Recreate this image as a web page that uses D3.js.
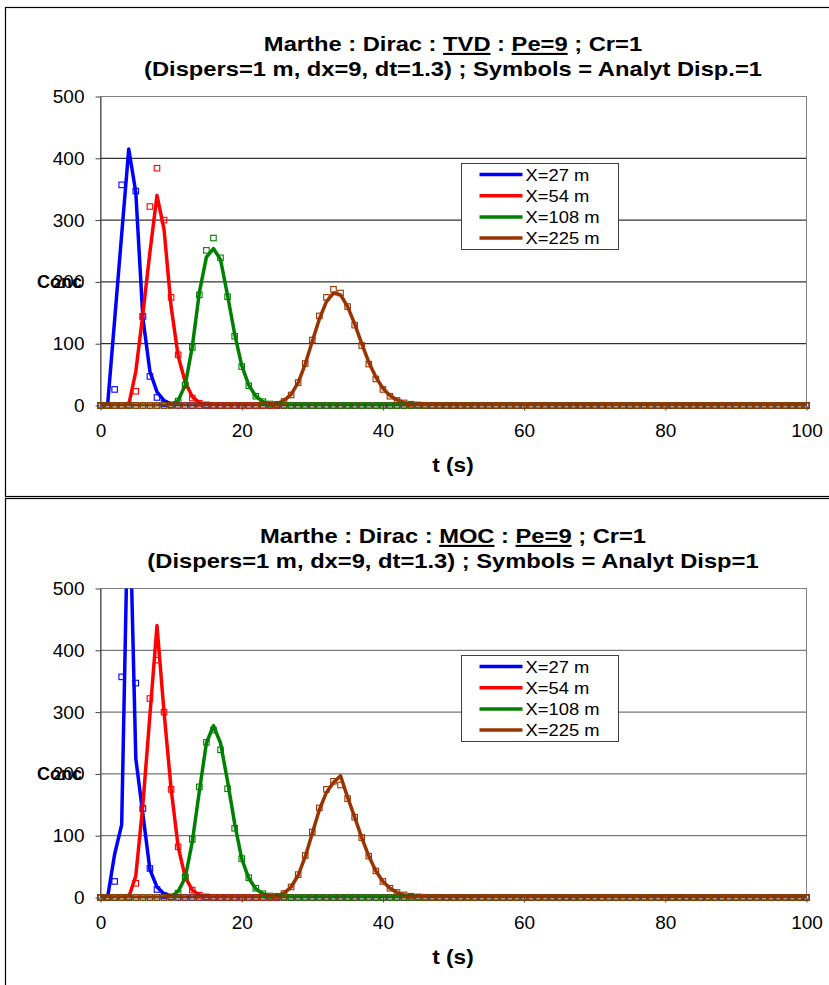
<!DOCTYPE html>
<html>
<head>
<meta charset="utf-8">
<script src="https://cdn.jsdelivr.net/npm/d3@7"></script>
<style>
	body { margin: 0; background: #fff; }
	svg { display: block; font-family: Arial, "Liberation Sans", sans-serif; }
	.tick text { font-size: 19px; fill: #000; }
	.u { text-decoration: underline; }
</style>
</head>
<body>
<svg width="829" height="985"></svg>
<script>
//* categories / ticks
const times = d3.range(0, 101); // one output per second, t = 0..100 s
const seriesNames = ["X=27 m", "X=54 m", "X=108 m", "X=225 m"];
const xTicks = [0, 20, 40, 60, 80, 100];
const yTicks = [0, 100, 200, 300, 400, 500];

//* analytic solution (symbols), same in both charts
const anaX27 = [
	0, 0, 26, 357, 543, 347, 144, 47, 13, 3.3,
	0.8, 0.2, 0, 0, 0, 0, 0, 0, 0, 0,
	0, 0, 0, 0, 0, 0, 0, 0, 0, 0,
	0, 0, 0, 0, 0, 0, 0, 0, 0, 0,
	0, 0, 0, 0, 0, 0, 0, 0, 0, 0,
	0, 0, 0, 0, 0, 0, 0, 0, 0, 0,
	0, 0, 0, 0, 0, 0, 0, 0, 0, 0,
	0, 0, 0, 0, 0, 0, 0, 0, 0, 0,
	0, 0, 0, 0, 0, 0, 0, 0, 0, 0,
	0, 0, 0, 0, 0, 0, 0, 0, 0, 0,
	0];
const anaX54 = [
	0, 0, 0, 0, 0.6, 23, 144, 322, 384, 300,
	175, 82, 33, 12, 3.8, 1.1, 0.3, 0, 0, 0,
	0, 0, 0, 0, 0, 0, 0, 0, 0, 0,
	0, 0, 0, 0, 0, 0, 0, 0, 0, 0,
	0, 0, 0, 0, 0, 0, 0, 0, 0, 0,
	0, 0, 0, 0, 0, 0, 0, 0, 0, 0,
	0, 0, 0, 0, 0, 0, 0, 0, 0, 0,
	0, 0, 0, 0, 0, 0, 0, 0, 0, 0,
	0, 0, 0, 0, 0, 0, 0, 0, 0, 0,
	0, 0, 0, 0, 0, 0, 0, 0, 0, 0,
	0];
const anaX108 = [
	0, 0, 0, 0, 0, 0, 0, 0, 0, 0,
	0.8, 7.1, 33, 94, 179, 251, 271, 239, 176, 112,
	63, 32, 15, 6.2, 2.5, 0.9, 0.3, 0, 0, 0,
	0, 0, 0, 0, 0, 0, 0, 0, 0, 0,
	0, 0, 0, 0, 0, 0, 0, 0, 0, 0,
	0, 0, 0, 0, 0, 0, 0, 0, 0, 0,
	0, 0, 0, 0, 0, 0, 0, 0, 0, 0,
	0, 0, 0, 0, 0, 0, 0, 0, 0, 0,
	0, 0, 0, 0, 0, 0, 0, 0, 0, 0,
	0, 0, 0, 0, 0, 0, 0, 0, 0, 0,
	0];
const anaX225 = [
	0, 0, 0, 0, 0, 0, 0, 0, 0, 0,
	0, 0, 0, 0, 0, 0, 0, 0, 0, 0,
	0, 0, 0, 0.1, 0.5, 2, 6.5, 17, 37, 68,
	106, 145, 175, 188, 182, 160, 130, 97, 67, 43,
	26, 15, 8.2, 4.2, 2.1, 1, 0.45, 0.2, 0.1, 0,
	0, 0, 0, 0, 0, 0, 0, 0, 0, 0,
	0, 0, 0, 0, 0, 0, 0, 0, 0, 0,
	0, 0, 0, 0, 0, 0, 0, 0, 0, 0,
	0, 0, 0, 0, 0, 0, 0, 0, 0, 0,
	0, 0, 0, 0, 0, 0, 0, 0, 0, 0,
	0];

//* Marthe TVD (lines, top chart)
const tvdX27 = [
	0, 0, 138, 277, 415, 345, 142, 55, 22, 8,
	2.5, 0.7, 0.2, 0, 0, 0, 0, 0, 0, 0,
	0, 0, 0, 0, 0, 0, 0, 0, 0, 0,
	0, 0, 0, 0, 0, 0, 0, 0, 0, 0,
	0, 0, 0, 0, 0, 0, 0, 0, 0, 0,
	0, 0, 0, 0, 0, 0, 0, 0, 0, 0,
	0, 0, 0, 0, 0, 0, 0, 0, 0, 0,
	0, 0, 0, 0, 0, 0, 0, 0, 0, 0,
	0, 0, 0, 0, 0, 0, 0, 0, 0, 0,
	0, 0, 0, 0, 0, 0, 0, 0, 0, 0,
	0];
const tvdX54 = [
	0, 0, 0, 0, 1, 55, 148, 248, 340, 285,
	160, 80, 38, 14, 4.5, 1.3, 0.4, 0, 0, 0,
	0, 0, 0, 0, 0, 0, 0, 0, 0, 0,
	0, 0, 0, 0, 0, 0, 0, 0, 0, 0,
	0, 0, 0, 0, 0, 0, 0, 0, 0, 0,
	0, 0, 0, 0, 0, 0, 0, 0, 0, 0,
	0, 0, 0, 0, 0, 0, 0, 0, 0, 0,
	0, 0, 0, 0, 0, 0, 0, 0, 0, 0,
	0, 0, 0, 0, 0, 0, 0, 0, 0, 0,
	0, 0, 0, 0, 0, 0, 0, 0, 0, 0,
	0];
const tvdX108 = [
	0, 0, 0, 0, 0, 0, 0, 0, 0, 0,
	0.5, 8, 33, 95, 183, 240, 254, 236, 178, 116,
	65, 33, 15, 6, 2.5, 1, 0.3, 0, 0, 0,
	0, 0, 0, 0, 0, 0, 0, 0, 0, 0,
	0, 0, 0, 0, 0, 0, 0, 0, 0, 0,
	0, 0, 0, 0, 0, 0, 0, 0, 0, 0,
	0, 0, 0, 0, 0, 0, 0, 0, 0, 0,
	0, 0, 0, 0, 0, 0, 0, 0, 0, 0,
	0, 0, 0, 0, 0, 0, 0, 0, 0, 0,
	0, 0, 0, 0, 0, 0, 0, 0, 0, 0,
	0];
const tvdX225 = [
	0, 0, 0, 0, 0, 0, 0, 0, 0, 0,
	0, 0, 0, 0, 0, 0, 0, 0, 0, 0,
	0, 0, 0, 0.2, 1, 3, 8, 18, 37, 67,
	104, 140, 168, 182, 179, 160, 132, 100, 70, 46,
	28, 16, 9, 4.5, 2.2, 1, 0.5, 0.2, 0, 0,
	0, 0, 0, 0, 0, 0, 0, 0, 0, 0,
	0, 0, 0, 0, 0, 0, 0, 0, 0, 0,
	0, 0, 0, 0, 0, 0, 0, 0, 0, 0,
	0, 0, 0, 0, 0, 0, 0, 0, 0, 0,
	0, 0, 0, 0, 0, 0, 0, 0, 0, 0,
	0];

//* Marthe MOC (lines, bottom chart)
const mocX27 = [
	0, 0, 70, 118, 700, 225, 135, 45, 17, 6,
	2, 0.5, 0.1, 0, 0, 0, 0, 0, 0, 0,
	0, 0, 0, 0, 0, 0, 0, 0, 0, 0,
	0, 0, 0, 0, 0, 0, 0, 0, 0, 0,
	0, 0, 0, 0, 0, 0, 0, 0, 0, 0,
	0, 0, 0, 0, 0, 0, 0, 0, 0, 0,
	0, 0, 0, 0, 0, 0, 0, 0, 0, 0,
	0, 0, 0, 0, 0, 0, 0, 0, 0, 0,
	0, 0, 0, 0, 0, 0, 0, 0, 0, 0,
	0, 0, 0, 0, 0, 0, 0, 0, 0, 0,
	0];
const mocX54 = [
	0, 0, 0, 0, 0.5, 35, 150, 295, 440, 300,
	176, 82, 33, 12, 4, 1.2, 0.4, 0, 0, 0,
	0, 0, 0, 0, 0, 0, 0, 0, 0, 0,
	0, 0, 0, 0, 0, 0, 0, 0, 0, 0,
	0, 0, 0, 0, 0, 0, 0, 0, 0, 0,
	0, 0, 0, 0, 0, 0, 0, 0, 0, 0,
	0, 0, 0, 0, 0, 0, 0, 0, 0, 0,
	0, 0, 0, 0, 0, 0, 0, 0, 0, 0,
	0, 0, 0, 0, 0, 0, 0, 0, 0, 0,
	0, 0, 0, 0, 0, 0, 0, 0, 0, 0,
	0];
const mocX108 = [
	0, 0, 0, 0, 0, 0, 0, 0, 0, 0,
	1, 10, 32, 90, 172, 250, 278, 250, 188, 120,
	63, 31, 14, 6, 2.4, 0.9, 0.3, 0, 0, 0,
	0, 0, 0, 0, 0, 0, 0, 0, 0, 0,
	0, 0, 0, 0, 0, 0, 0, 0, 0, 0,
	0, 0, 0, 0, 0, 0, 0, 0, 0, 0,
	0, 0, 0, 0, 0, 0, 0, 0, 0, 0,
	0, 0, 0, 0, 0, 0, 0, 0, 0, 0,
	0, 0, 0, 0, 0, 0, 0, 0, 0, 0,
	0, 0, 0, 0, 0, 0, 0, 0, 0, 0,
	0];
const mocX225 = [
	0, 0, 0, 0, 0, 0, 0, 0, 0, 0,
	0, 0, 0, 0, 0, 0, 0, 0, 0, 0,
	0, 0, 0, 0.2, 1, 2.5, 7, 17, 36, 66,
	104, 142, 170, 186, 197, 162, 130, 97, 67, 43,
	26, 15, 8, 4, 2, 1, 0.4, 0.2, 0, 0,
	0, 0, 0, 0, 0, 0, 0, 0, 0, 0,
	0, 0, 0, 0, 0, 0, 0, 0, 0, 0,
	0, 0, 0, 0, 0, 0, 0, 0, 0, 0,
	0, 0, 0, 0, 0, 0, 0, 0, 0, 0,
	0, 0, 0, 0, 0, 0, 0, 0, 0, 0,
	0];

const colors = ["#0000ff", "#ff0000", "#008000", "#993300"];
const analytic = [anaX27, anaX54, anaX108, anaX225];

const charts = [
	{ dy: 0, scheme: "TVD", disp: "Disp.=1", lines: [tvdX27, tvdX54, tvdX108, tvdX225], grid: "#000" },
	{ dy: 492, scheme: "MOC", disp: "Disp=1", lines: [mocX27, mocX54, mocX108, mocX225], grid: "#555" }
];

const svg = d3.select("svg");

//* scales
const x = d3.scaleLinear().domain([0, 100]).range([100.5, 806.5]);
const y = d3.scaleLinear().domain([0, 500]).range([405.5, 96.5]);
const lineGen = d3
	.line()
	.x((_, i) => x(times[i]))
	.y((d) => y(d));

// the source picture is a little stretched sideways, so wide text is scaled in x
const stretch = 1.13;

//* chart frames
svg.append("rect")
	.attr("x", 5.5).attr("y", 7.5).attr("width", 840).attr("height", 489)
	.attr("fill", "none").attr("stroke", "#000").attr("stroke-width", 1.2);
svg.append("rect")
	.attr("x", 5.5).attr("y", 498.5).attr("width", 840).attr("height", 520)
	.attr("fill", "none").attr("stroke", "#000").attr("stroke-width", 1.2);

charts.forEach((c, ci) => {
	const g = svg.append("g").attr("transform", `translate(0, ${c.dy})`);

	const clipId = "clip" + ci;
	const mClipId = "mclip" + ci;
	g.append("clipPath").attr("id", clipId)
		.append("rect").attr("x", x(0)).attr("y", y(500)).attr("width", x(100) - x(0)).attr("height", y(0) - y(500));
	g.append("clipPath").attr("id", mClipId)
		.append("rect").attr("x", x(0) - 6).attr("y", y(500) - 2).attr("width", x(100) - x(0) + 12).attr("height", y(0) - y(500) + 10);

	//* grid + plot frame
	g.selectAll("line.grid")
		.data(yTicks.filter((v) => v > 0 && v < 500))
		.enter()
		.append("line")
		.attr("class", "grid")
		.attr("x1", x(0)).attr("x2", x(100))
		.attr("y1", (d) => y(d)).attr("y2", (d) => y(d))
		.attr("stroke", c.grid).attr("stroke-width", 1);
	g.append("rect")
		.attr("x", x(0)).attr("y", y(500))
		.attr("width", x(100) - x(0)).attr("height", y(0) - y(500))
		.attr("fill", "none").attr("stroke", "#808080");

	//* axes
	const xAxis = g.append("g")
		.attr("transform", `translate(0, ${y(0)})`)
		.call(d3.axisBottom(x).tickValues(xTicks).tickSize(5).tickSizeOuter(0).tickPadding(13));
	const yAxis = g.append("g")
		.attr("transform", `translate(${x(0)}, 0)`)
		.call(d3.axisLeft(y).tickValues(yTicks).tickSize(5).tickSizeOuter(0).tickPadding(11));
	[xAxis, yAxis].forEach((a) => {
		a.select(".domain").attr("stroke", "#404040");
		a.selectAll(".tick line").attr("stroke", "#404040");
		a.selectAll(".tick text").attr("font-family", "Arial, 'Liberation Sans', sans-serif");
	});

	//* lines
	g.append("g")
		.attr("clip-path", `url(#${clipId})`)
		.selectAll("path.num")
		.data(c.lines)
		.enter()
		.append("path")
		.attr("class", "num")
		.attr("d", (d) => lineGen(d))
		.attr("fill", "none")
		.attr("stroke", (_, i) => colors[i])
		.attr("stroke-width", 3.5)
		.attr("stroke-linejoin", "round");

	//* analytic symbols
	const sym = g.append("g").attr("clip-path", `url(#${mClipId})`);
	analytic.forEach((vals, si) => {
		sym.selectAll(null)
			.data(vals.map((v, i) => ({ t: times[i], v })).filter((d) => d.v <= 500))
			.enter()
			.append("rect")
			.attr("x", (d) => x(d.t) - 2.75)
			.attr("y", (d) => y(d.v) - 2.75)
			.attr("width", 5.5)
			.attr("height", 5.5)
			.attr("fill", "none")
			.attr("stroke", colors[si])
			.attr("stroke-width", 1.1);
	});

	//* titles
	const title = g.append("text")
		.attr("transform", `translate(453, 51) scale(${stretch}, 1)`)
		.attr("text-anchor", "middle")
		.attr("font-size", 21).attr("font-weight", "bold");
	title.append("tspan").text("Marthe : Dirac : ");
	title.append("tspan").attr("class", "u").text(c.scheme);
	title.append("tspan").text(" : ");
	title.append("tspan").attr("class", "u").text("Pe=9");
	title.append("tspan").text(" ; Cr=1");
	g.append("text")
		.attr("transform", `translate(453, 76) scale(${stretch}, 1)`)
		.attr("text-anchor", "middle")
		.attr("font-size", 21).attr("font-weight", "bold")
		.text(`(Dispers=1 m, dx=9, dt=1.3) ; Symbols = Analyt ${c.disp}`);

	g.append("text")
		.attr("transform", `translate(453, 472) scale(${stretch}, 1)`)
		.attr("text-anchor", "middle")
		.attr("font-size", 20).attr("font-weight", "bold")
		.text("t (s)");
	g.append("text")
		.attr("x", 37).attr("y", 288)
		.attr("font-size", 18).attr("font-weight", "bold")
		.text("Conc");

	//* legend
	const legend = g.append("g").attr("transform", "translate(461.5, 163.5)");
	legend.append("rect")
		.attr("width", 157).attr("height", 86)
		.attr("fill", "#fff").attr("stroke", "#404040");
	const items = legend.selectAll("g.item")
		.data(seriesNames)
		.enter()
		.append("g")
		.attr("class", "item")
		.attr("transform", (_, i) => `translate(0, ${11 + i * 21.2})`);
	items.append("line")
		.attr("x1", 18).attr("x2", 61)
		.attr("stroke", (_, i) => colors[i]).attr("stroke-width", 3.5);
	items.append("text")
		.attr("transform", "translate(64, 6) scale(1.08, 1)")
		.attr("font-size", 17)
		.text((d) => d);
});
</script>
</body>
</html>
